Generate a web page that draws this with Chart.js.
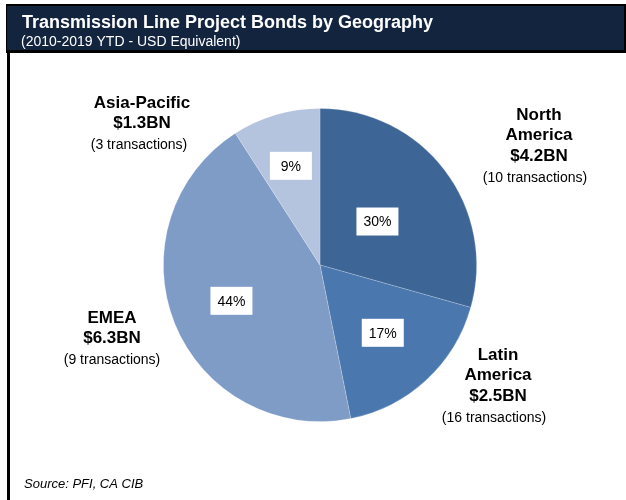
<!DOCTYPE html>
<html>
<head>
<meta charset="utf-8">
<script src="https://cdn.jsdelivr.net/npm/chart.js@4.4.1/dist/chart.umd.min.js"></script>
<style>
  html, body { margin: 0; padding: 0; background: #fff; }
  #chart { display: block; }
</style>
</head>
<body>
<canvas id="chart" width="626" height="500"></canvas>
<script>
// data
const regions = ['North America', 'Latin America', 'EMEA', 'Asia-Pacific'];
const volumes = [4.2, 2.5, 6.3, 1.3];          // USD BN
const transactions = [10, 16, 9, 3];
const shareLabels = ['30%', '17%', '44%', '9%'];
const sliceColors = ['#3D6596', '#4A78AE', '#7F9CC7', '#B4C3DE'];

const titleText = 'Transmission Line Project Bonds by Geography';
const subtitleText = '(2010-2019 YTD - USD Equivalent)';
const sourceText = 'Source: PFI, CA CIB';

const FONT = '"Liberation Sans", Arial, sans-serif';

// header band, frame lines and footnote
const framePlugin = {
  id: 'frame',
  beforeDraw(chart) {
    const ctx = chart.ctx;
    ctx.save();
    ctx.fillStyle = '#000';
    ctx.fillRect(6, 4, 620, 49);
    ctx.fillStyle = '#13243F';
    ctx.fillRect(7, 6, 617, 44);
    ctx.fillStyle = '#000';
    ctx.fillRect(7, 50, 3, 450);

    ctx.fillStyle = '#fff';
    ctx.textBaseline = 'alphabetic';
    ctx.textAlign = 'left';
    ctx.font = 'bold 18px ' + FONT;
    ctx.fillText(titleText, 22, 28);
    ctx.font = '14px ' + FONT;
    ctx.fillText(subtitleText, 21, 46);

    ctx.fillStyle = '#000';
    ctx.font = 'italic 13px ' + FONT;
    ctx.fillText(sourceText, 24, 488);
    ctx.restore();
  }
};

// percentage boxes inside slices + region callouts outside
const labelPlugin = {
  id: 'sliceLabels',
  afterDatasetsDraw(chart, args, opts) {
    const ctx = chart.ctx;
    const meta = chart.getDatasetMeta(0);
    ctx.save();
    meta.data.forEach((arc, i) => {
      const mid = (arc.startAngle + arc.endAngle) / 2;
      const r = arc.outerRadius * opts.innerRadius[i];
      const x = arc.x + Math.cos(mid) * r;
      const y = arc.y + Math.sin(mid) * r;
      ctx.fillStyle = '#fff';
      ctx.fillRect(x - 21, y - 14, 42, 28);
      ctx.fillStyle = '#000';
      ctx.font = '14px ' + FONT;
      ctx.textAlign = 'center';
      ctx.textBaseline = 'middle';
      ctx.fillText(shareLabels[i], x, y + 1);

      // callout text, offset from pie centre
      const off = opts.callouts[i];
      const cx = arc.x + off[0];
      let cy = arc.y + off[1];
      const nameLines = regions[i].indexOf('America') >= 0 ? regions[i].split(' ') : [regions[i]];
      ctx.font = 'bold 17px ' + FONT;
      nameLines.forEach(line => {
        ctx.fillText(line, cx, cy);
        cy += 20.5;
      });
      ctx.fillText('$' + volumes[i].toFixed(1) + 'BN', cx, cy);
      cy += 22;
      ctx.font = '14px ' + FONT;
      ctx.fillText('(' + transactions[i] + ' transactions)', cx + off[2], cy);
    });
    ctx.restore();
  }
};

new Chart(document.getElementById('chart'), {
  type: 'pie',
  data: {
    labels: regions,
    datasets: [{
      data: volumes,
      backgroundColor: sliceColors,
      borderColor: 'rgba(255,255,255,0.25)',
      borderWidth: 0.8
    }]
  },
  options: {
    responsive: false,
    devicePixelRatio: 1,
    animation: false,
    layout: { padding: { top: 108, bottom: 78, left: 163, right: 149 } },
    plugins: {
      legend: { display: false },
      tooltip: { enabled: false },
      sliceLabels: {
        innerRadius: [0.46, 0.59, 0.61, 0.66],
        callouts: [[219, -150, -4], [178, 90, -4], [-208, 53, 0], [-178, -162, -3]]
      }
    }
  },
  plugins: [framePlugin, labelPlugin]
});
</script>
</body>
</html>
